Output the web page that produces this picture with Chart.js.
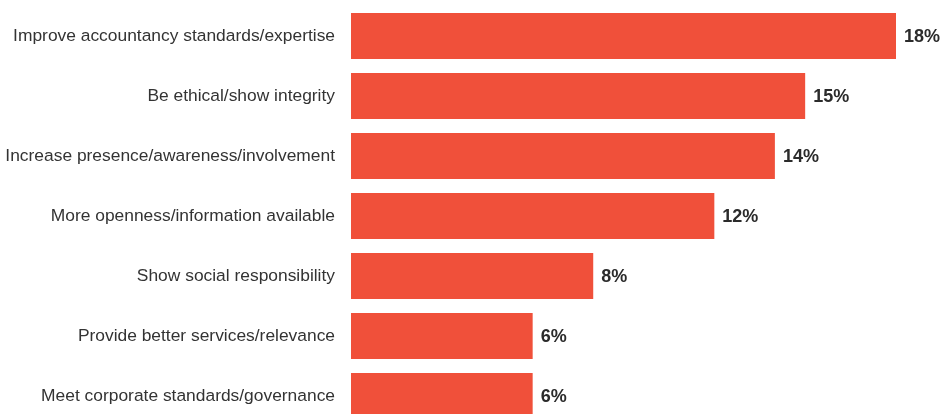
<!DOCTYPE html>
<html><head><meta charset="utf-8">
<script src="https://cdn.jsdelivr.net/npm/chart.js@4"></script>
<style>
html,body{margin:0;padding:0;background:#fff;overflow:hidden;}
#wrap{width:944px;height:414px;overflow:hidden;position:relative;}
</style></head>
<body><div id="wrap"><canvas id="c" width="944" height="430"></canvas></div>
<script>
const categories = [
  "Improve accountancy standards/expertise",
  "Be ethical/show integrity",
  "Increase presence/awareness/involvement",
  "More openness/information available",
  "Show social responsibility",
  "Provide better services/relevance",
  "Meet corporate standards/governance"
];
const values = [18, 15, 14, 12, 8, 6, 6];
const valueLabels = ["18%", "15%", "14%", "12%", "8%", "6%", "6%"];

const labelPlugin = {
  id: 'valLabels',
  afterDatasetsDraw(chart) {
    const ctx = chart.ctx;
    const meta = chart.getDatasetMeta(0);
    ctx.save();
    ctx.fillStyle = '#2b2b2b';
    ctx.font = 'bold 18px "Liberation Sans", Arial, sans-serif';
    ctx.textAlign = 'left';
    ctx.textBaseline = 'middle';
    meta.data.forEach((bar, i) => {
      ctx.fillText(valueLabels[i], bar.x + 8, bar.y + 1);
    });
    ctx.restore();
  }
};

new Chart(document.getElementById('c'), {
  type: 'bar',
  data: {
    labels: categories,
    datasets: [{
      data: values,
      backgroundColor: '#F0503A',
      borderWidth: 0,
      categoryPercentage: 46/60,
      barPercentage: 1
    }]
  },
  options: {
    indexAxis: 'y',
    responsive: false,
    animation: false,
    layout: { padding: { top: 6, right: 48, bottom: 4, left: 0 } },
    plugins: { legend: { display: false }, tooltip: { enabled: false } },
    scales: {
      x: {
        min: 0, max: 18,
        display: false,
        grid: { display: false }
      },
      y: {
        grid: { display: false, drawTicks: false },
        border: { display: false },
        afterFit(scale) { scale.width = 351; scale.paddingTop = 0; scale.paddingBottom = 0; },
        ticks: {
          padding: 16,
          color: '#333333',
          font: { family: '"Liberation Sans", Arial, sans-serif', size: 17.4 }
        }
      }
    }
  },
  plugins: [labelPlugin]
});
</script></body></html>
